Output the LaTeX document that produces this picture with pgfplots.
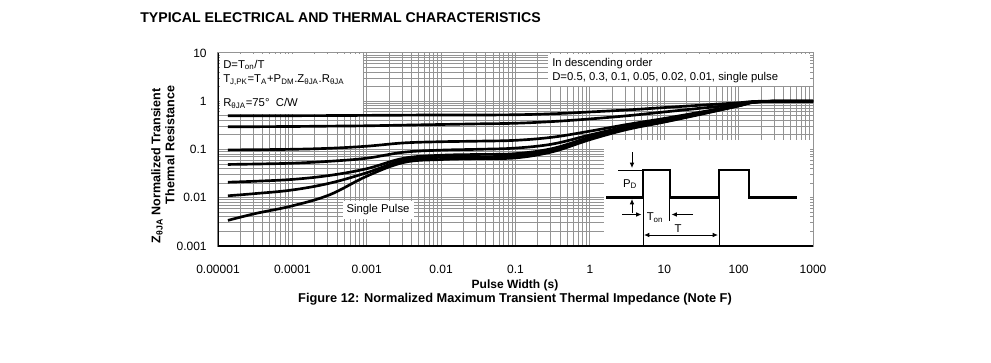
\documentclass[border=0pt]{standalone}
\usepackage{pgfplots}
\pgfplotsset{compat=1.18}
\usepackage{fontspec}
\setmainfont{Liberation Sans}
\usetikzlibrary{arrows.meta}
\begin{document}
\begin{tikzpicture}
\path (0pt,0pt) rectangle (743.25pt,-271.5pt);
\begin{axis}[
 at={(163.5pt,-184.5pt)}, anchor=south west,
 scale only axis, width=446.25pt, height=144.75pt,
 xmode=log, ymode=log,
 xmin=1e-5, xmax=1000, ymin=1e-3, ymax=10,
 xtick={1e-5,1e-4,1e-3,1e-2,1e-1,1,10,100,1000},
 xticklabels={0.00001,0.0001,0.001,0.01,0.1,1,10,100,1000},
 ytick={1e-3,1e-2,1e-1,1,10},
 yticklabels={0.001,0.01,0.1,1,10},
 grid=both,
 major grid style={black!42, line width=0.75pt},
 minor grid style={black!42, line width=0.75pt},
 major tick style={draw=none}, minor tick style={draw=none},
 axis line style={black!42, line width=0.75pt},
 tick label style={font=\fontsize{9}{10}\selectfont},
 xticklabel style={yshift=-9pt, text height=1.6ex, text depth=0.2ex},
 yticklabel style={xshift=-5pt},
]
% white boxes over the grid
\fill[white] (rel axis cs:0.003,0.684) rectangle (rel axis cs:0.2437,0.995);
\fill[white] (rel axis cs:0.5546,0.829) rectangle (rel axis cs:0.995,0.995);
\fill[white] (rel axis cs:0.6487,0.005) rectangle (rel axis cs:0.995,0.549);

\addplot[black, line width=2pt, smooth, tension=0.6] coordinates {
(1.36e-5,0.50) (3.16e-5,0.50) (1e-4,0.502) (3.16e-4,0.505) (1e-3,0.51) (3.16e-3,0.515) (1e-2,0.52) (3.16e-2,0.52) (0.1,0.525) (0.316,0.55) (1,0.60) (3.16,0.66) (10,0.74) (31.6,0.83) (100,0.93) (158,0.99) (316,1.0) (1000,1.0)};
\addplot[black, line width=2pt, smooth, tension=0.6] coordinates {
(1.36e-5,0.295) (3.16e-5,0.297) (1e-4,0.30) (3.16e-4,0.305) (1e-3,0.31) (3.16e-3,0.32) (1e-2,0.33) (3.16e-2,0.34) (0.1,0.35) (0.316,0.38) (1,0.43) (3.16,0.50) (10,0.60) (31.6,0.72) (100,0.86) (158,0.97) (316,1.0) (1000,1.0)};
\addplot[black, line width=2pt, smooth, tension=0.6] coordinates {
(1.36e-5,0.098) (3.16e-5,0.099) (1e-4,0.101) (3.16e-4,0.106) (1e-3,0.117) (3.16e-3,0.137) (1e-2,0.145) (3.16e-2,0.149) (0.1,0.155) (0.316,0.18) (1,0.24) (3.16,0.33) (10,0.44) (31.6,0.60) (100,0.83) (158,0.96) (316,1.0) (1000,1.0)};
\addplot[black, line width=2pt, smooth, tension=0.6] coordinates {
(1.36e-5,0.049) (3.16e-5,0.050) (1e-4,0.052) (3.16e-4,0.057) (1e-3,0.066) (3.16e-3,0.088) (1e-2,0.097) (3.16e-2,0.101) (0.1,0.107) (0.316,0.13) (1,0.20) (3.16,0.30) (10,0.41) (31.6,0.57) (100,0.82) (158,0.96) (316,1.0) (1000,1.0)};
\addplot[black, line width=2pt, smooth, tension=0.6] coordinates {
(1.36e-5,0.021) (3.16e-5,0.022) (1e-4,0.024) (3.16e-4,0.029) (1e-3,0.040) (3.16e-3,0.066) (1e-2,0.076) (3.16e-2,0.079) (0.1,0.082) (0.316,0.105) (1,0.18) (3.16,0.28) (10,0.39) (31.6,0.56) (100,0.81) (158,0.95) (316,1.0) (1000,1.0)};
\addplot[black, line width=2pt, smooth, tension=0.6] coordinates {
(1.36e-5,0.011) (3.16e-5,0.0122) (1e-4,0.0145) (3.16e-4,0.020) (1e-3,0.033) (3.16e-3,0.060) (1e-2,0.069) (3.16e-2,0.071) (0.1,0.074) (0.316,0.097) (1,0.17) (3.16,0.27) (10,0.38) (31.6,0.55) (100,0.81) (158,0.95) (316,1.0) (1000,1.0)};
\addplot[black, line width=2pt, smooth, tension=0.6] coordinates {
(1.36e-5,0.0034) (3.16e-5,0.0047) (1e-4,0.0068) (3.16e-4,0.0115) (1e-3,0.028) (3.16e-3,0.054) (1e-2,0.062) (3.16e-2,0.065) (0.1,0.067) (0.316,0.09) (1,0.16) (3.16,0.26) (10,0.37) (31.6,0.54) (100,0.80) (158,0.95) (316,1.0) (1000,1.0)};

\draw[black, line width=1.6pt] (rel axis cs:0,1) -- (rel axis cs:0,0) -- (rel axis cs:1,0);
\end{axis}

\begin{scope}[x=0.75pt, y=-0.75pt]
\node[anchor=west, font=\bfseries\fontsize{10.6}{12}\selectfont, inner sep=0] at (140,18) {TYPICAL ELECTRICAL AND THERMAL CHARACTERISTICS};

\begin{scope}[font=\fontsize{8.5}{10}\selectfont]
\node[anchor=west, inner sep=0] at (223,65) {D=T\textsubscript{on}/T};
\node[anchor=west, inner sep=0] at (223,80) {T\textsubscript{J,PK}=T\textsubscript{A}+P\textsubscript{DM}.Z\textsubscript{θJA}.R\textsubscript{θJA}};
\node[anchor=west, inner sep=0] at (223,103) {R\textsubscript{θJA}=75°\ \ C/W};
\node[anchor=west, inner sep=0] at (552,64) {In descending order};
\node[anchor=west, inner sep=0] at (552,78) {D=0.5, 0.3, 0.1, 0.05, 0.02, 0.01, single pulse};
\node[fill=white, inner xsep=3pt, inner ysep=3pt] at (378,210) {Single Pulse};
\end{scope}

% pulse diagram
\draw[line width=2.2pt] (606,197.5) -- (643,197.5) -- (643,170) -- (670,170) -- (670,197.5) -- (719,197.5) -- (719,170) -- (749,170) -- (749,197.5) -- (797,197.5);
\draw[line width=0.6pt] (618,170) -- (643,170);
\draw[line width=0.6pt] (643,197) -- (643,246);
\draw[line width=0.6pt] (719,197) -- (719,246);
\draw[line width=0.6pt] (669.5,197) -- (669.5,221);
\draw[line width=0.7pt, -{Latex[length=4pt,width=3.5pt]}] (632,152) -- (632,168);
\draw[line width=0.7pt, -{Latex[length=4pt,width=3.5pt]}] (632,213) -- (632,199);
\draw[line width=0.7pt, -{Latex[length=4pt,width=3.5pt]}] (622,214.5) -- (641.5,214.5);
\draw[line width=0.7pt, -{Latex[length=4pt,width=3.5pt]}] (693,214.5) -- (671.5,214.5);
\draw[line width=0.7pt, {Latex[length=4pt,width=3.5pt]}-{Latex[length=4pt,width=3.5pt]}] (644,235) -- (718,235);
\node[font=\fontsize{8.5}{10}\selectfont] at (630,184) {P\textsubscript{D}};
\node[font=\fontsize{8.5}{10}\selectfont] at (655,217.5) {T\textsubscript{on}};
\node[font=\fontsize{8.5}{10}\selectfont] at (678,229) {T};

% axis labels
\node[font=\bfseries\fontsize{9}{10}\selectfont] at (515,285.5) {Pulse Width (s)};
\node[font=\bfseries\fontsize{9.6}{11}\selectfont] at (515,299.5) {Figure 12: Normalized Maximum Transient Thermal Impedance (Note F)};
\node[rotate=90, font=\bfseries\fontsize{9.4}{11}\selectfont] at (157,166) {Z\textsubscript{θJA} Normalized Transient};
\node[rotate=90, font=\bfseries\fontsize{9.4}{11}\selectfont] at (170,145) {Thermal Resistance};
\end{scope}
\end{tikzpicture}
\end{document}
